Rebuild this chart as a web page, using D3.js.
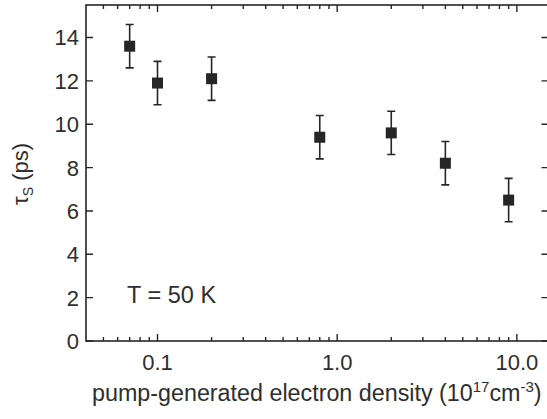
<!DOCTYPE html>
<html>
<head>
<meta charset="utf-8">
<script src="https://cdn.jsdelivr.net/npm/d3@7"></script>
<style>
  body { margin: 0; background: #fff; }
  svg { display: block; font-family: "Liberation Sans", Arial, sans-serif; }
</style>
</head>
<body>
<div id="chart"></div>
<script>
// data ---------------------------------------------------------------
const density = [0.07, 0.1, 0.2, 0.8, 2, 4, 9];
const tauS = [13.6, 11.9, 12.1, 9.4, 9.6, 8.2, 6.5];
const tauErr = [1.0, 1.0, 1.0, 1.0, 1.0, 1.0, 1.0];
const xMajor = [0.1, 1, 10];
const xMajorLabels = ['0.1', '1.0', '10.0'];
const yTicks = [0, 2, 4, 6, 8, 10, 12, 14];

const width = 547, height = 419;
const margin = { top: 5, right: -1.5, bottom: 78, left: 86 };
const ink = '#262626';
const textInk = '#2e2e2e';

const svg = d3.select('#chart').append('svg')
  .attr('width', width)
  .attr('height', height);

const x = d3.scaleLog()
  .domain([0.04, 15])
  .range([margin.left, width - margin.right]);
const y = d3.scaleLinear()
  .domain([0, 15.5])
  .range([height - margin.bottom, margin.top]);

const x0 = x.range()[0], x1 = x.range()[1];
const y0 = y.range()[0], y1 = y.range()[1];

// minor ticks on the log axis
const xMinor = [];
[0.01, 0.1, 1, 10].forEach(dec => {
  for (let k = 2; k <= 9; k++) {
    const v = dec * k;
    if (v > 0.04 && v < 15) xMinor.push(v);
  }
});

// frame -------------------------------------------------------------
svg.append('rect')
  .attr('x', x0).attr('y', y1)
  .attr('width', x1 - x0).attr('height', y0 - y1)
  .attr('fill', 'none')
  .attr('stroke', ink)
  .attr('stroke-width', 1.6);

const ticks = svg.append('g').attr('stroke', ink).attr('stroke-width', 1.4);
// x ticks bottom + top (inward)
ticks.selectAll('.xmaj').data(xMajor).enter().append('path')
  .attr('d', d => `M${x(d)},${y0}v-7M${x(d)},${y1}v7`);
ticks.selectAll('.xmin').data(xMinor).enter().append('path')
  .attr('d', d => `M${x(d)},${y0}v-4M${x(d)},${y1}v4`);
// y ticks left + right (inward)
ticks.selectAll('.ytk').data(yTicks).enter().append('path')
  .attr('d', d => `M${x0},${y(d)}h7M${x1},${y(d)}h-7`);

// tick labels -----------------------------------------------------------
svg.append('g').selectAll('text').data(xMajor).enter().append('text')
  .attr('x', d => x(d))
  .attr('y', 370)
  .attr('text-anchor', 'middle')
  .attr('font-size', '22px')
  .attr('fill', textInk)
  .text((d, i) => xMajorLabels[i]);

svg.append('g').selectAll('text').data(yTicks).enter().append('text')
  .attr('x', x0 - 7)
  .attr('y', d => y(d))
  .attr('dy', '0.36em')
  .attr('text-anchor', 'end')
  .attr('font-size', '22px')
  .attr('fill', textInk)
  .text(d => d);

// axis titles -----------------------------------------------------------
const xt = svg.append('text')
  .attr('x', 92)
  .attr('y', 401)
  .attr('font-size', '23.3px')
  .attr('fill', textInk);
xt.append('tspan').text('pump-generated electron density (10');
xt.append('tspan').attr('font-size', '15px').attr('dy', -9).text('17');
xt.append('tspan').attr('dy', 9).text('cm');
xt.append('tspan').attr('font-size', '15px').attr('dy', -9).text('-3');
xt.append('tspan').attr('dy', 9).text(')');

const yt = svg.append('text')
  .attr('transform', 'translate(27.5,205) rotate(-90)')
  .attr('font-size', '22px')
  .attr('fill', textInk);
yt.append('tspan').text('τ');
yt.append('tspan').attr('font-size', '14px').attr('dy', 5).text('S');
yt.append('tspan').attr('dy', -5).text(' (ps)');

svg.append('text')
  .attr('x', 127)
  .attr('y', 303)
  .attr('font-size', '23.5px')
  .attr('fill', textInk)
  .text('T = 50 K');

// points with error bars ----------------------------------------------------
const pts = density.map((d, i) => ({ x: d, y: tauS[i], e: tauErr[i] }));
const g = svg.append('g');
g.selectAll('.err').data(pts).enter().append('path')
  .attr('d', d => {
    const cx = x(d.x), top = y(d.y + d.e), bot = y(d.y - d.e);
    return `M${cx},${top}V${bot}M${cx - 4},${top}h8M${cx - 4},${bot}h8`;
  })
  .attr('stroke', ink)
  .attr('stroke-width', 1.6)
  .attr('fill', 'none');
g.selectAll('rect').data(pts).enter().append('rect')
  .attr('x', d => x(d.x) - 5.5)
  .attr('y', d => y(d.y) - 5.5)
  .attr('width', 11)
  .attr('height', 11)
  .attr('fill', ink);
</script>
</body>
</html>
